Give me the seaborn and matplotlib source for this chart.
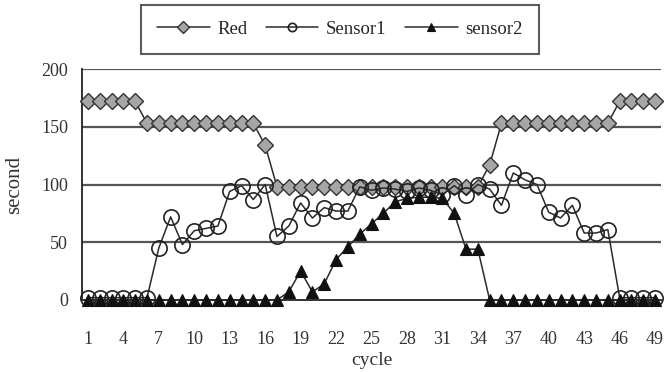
import matplotlib
matplotlib.use("Agg")
import matplotlib.pyplot as plt
import seaborn as sns
import pandas as pd

cycles = list(range(1, 50))
red = [172, 172, 172, 172, 172, 153, 153, 153, 153, 153,
       153, 153, 153, 153, 153, 134, 98, 98, 98, 98,
       98, 98, 98, 98, 98, 98, 98, 98, 98, 98,
       98, 98, 98, 98, 117, 153, 153, 153, 153, 153,
       153, 153, 153, 153, 153, 172, 172, 172, 172]
sensor1 = [2, 2, 2, 2, 2, 2, 45, 72, 48, 60,
           62, 64, 94, 99, 87, 100, 55, 64, 84, 71,
           80, 77, 77, 98, 95, 97, 96, 94, 97, 95,
           91, 99, 91, 100, 96, 82, 110, 104, 100, 76,
           71, 82, 58, 58, 61, 2, 2, 2, 2]
sensor2 = [0, 0, 0, 0, 0, 0, 0, 0, 0, 0,
           0, 0, 0, 0, 0, 0, 0, 7, 25, 7,
           14, 35, 46, 57, 66, 75, 85, 88, 89, 89,
           88, 75, 44, 44, 0, 0, 0, 0, 0, 0,
           0, 0, 0, 0, 0, 0, 0, 0, 0]
xticks = list(range(1, 50, 3))
yticks = [0, 50, 100, 150, 200]

sns.set_style("white")
plt.rcParams['font.family'] = ['Liberation Serif', 'DejaVu Serif']

df = pd.DataFrame({"cycle": cycles, "Red": red, "Sensor1": sensor1, "sensor2": sensor2})

fig = plt.figure(figsize=(6.65, 3.72), dpi=100)
ax = fig.add_axes([82/665, 1-300/372, (661-82)/665, (300-69)/372])

lc = "#2a2a2a"
sns.lineplot(data=df, x="cycle", y="Red", ax=ax, color=lc, lw=1.1, marker="D",
             markersize=8.3, markerfacecolor="#a6a6a6", markeredgecolor="#333333",
             markeredgewidth=1.0, label="Red", zorder=3, clip_on=False)
sns.lineplot(data=df, x="cycle", y="Sensor1", ax=ax, color=lc, lw=1.1, marker="o",
             markersize=11, markerfacecolor="none", markeredgecolor="#222222",
             markeredgewidth=1.2, label="Sensor1", zorder=4, clip_on=False)
sns.lineplot(data=df, x="cycle", y="sensor2", ax=ax, color=lc, lw=1.1, marker="^",
             markersize=9, markerfacecolor="#111111", markeredgecolor="#111111",
             markeredgewidth=0.8, label="sensor2", zorder=5, clip_on=False)

ax.set_xlim(0.5, 49.5)
ax.set_ylim(0, 200)
ax.set_yticks(yticks)
ax.set_xticks(xticks)
ax.set_xticks(cycles, minor=True)
ax.tick_params(axis='x', which='both', direction='in', length=4, width=1, color="#222222",
               labelsize=13, pad=22)
ax.tick_params(axis='y', which='both', length=0, labelsize=13, pad=10)
for y in yticks[1:]:
    ax.axhline(y, color="#555555", lw=1.6, zorder=1)
for s in ["top", "right"]:
    ax.spines[s].set_visible(False)
ax.spines["left"].set_color("#222222")
ax.spines["left"].set_linewidth(1.3)
ax.spines["bottom"].set_color("#222222")
ax.spines["bottom"].set_linewidth(1.3)
ax.set_xlabel("cycle", fontsize=14, color="#333333", labelpad=3)
ax.set_ylabel("second", fontsize=15, color="#333333", labelpad=12)
for t in ax.get_xticklabels() + ax.get_yticklabels():
    t.set_color("#333333")

handles, labels = ax.get_legend_handles_labels()
ax.get_legend().remove()
leg = fig.legend(handles, labels, loc="upper center", bbox_to_anchor=(0.511, 1.013),
                 ncol=3, fontsize=13.5, frameon=True, fancybox=False, edgecolor="#333333",
                 borderpad=0.85, handlelength=2.8, columnspacing=1.0, handletextpad=0.4)
leg.get_frame().set_linewidth(1.5)
for h in leg.legend_handles:
    h.set_markersize(6)

fig.savefig("out.png", dpi=100)
